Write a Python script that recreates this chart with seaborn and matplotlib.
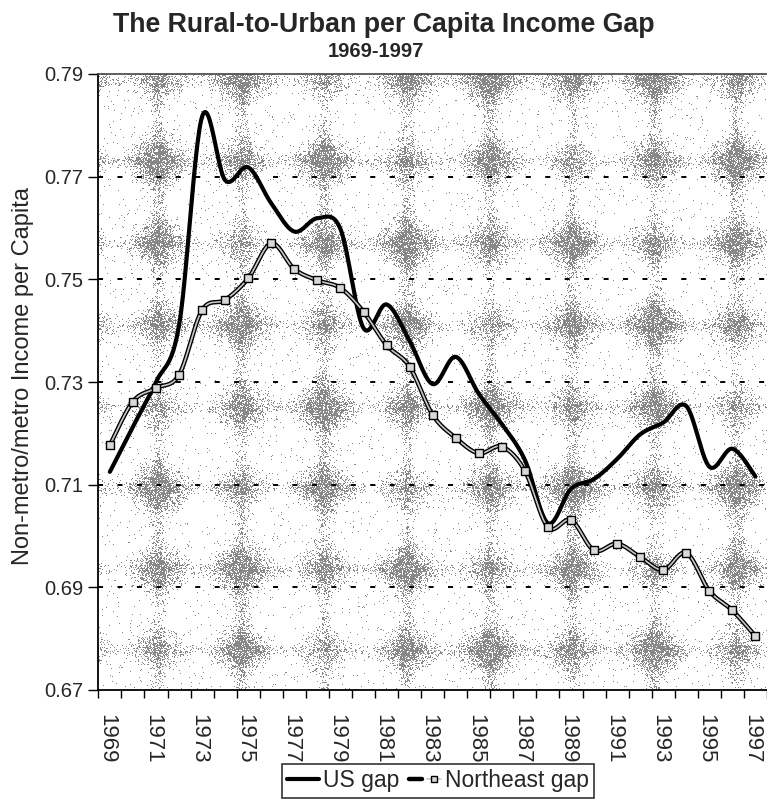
import numpy as np
import pandas as pd
import matplotlib
matplotlib.use("Agg")
import matplotlib.pyplot as plt
import matplotlib.transforms as mtransforms
import seaborn as sns
from matplotlib.lines import Line2D
from matplotlib.legend_handler import HandlerTuple
from matplotlib.ticker import FormatStrFormatter

# ---------------- data ----------------
years = list(range(1969, 1998))
us_gap = [0.7125, 0.7213, 0.7300, 0.7410, 0.7817, 0.7693, 0.7718, 0.7648,
          0.7593, 0.7619, 0.7598, 0.7405, 0.7451, 0.7380, 0.7296, 0.7349,
          0.7277, 0.7218, 0.7148, 0.7025, 0.7092, 0.7111, 0.7150, 0.7198,
          0.7221, 0.7253, 0.7135, 0.7170, 0.7116]
ne_gap = [0.7177, 0.7262, 0.7288, 0.7314, 0.7440, 0.7460, 0.7502, 0.7570,
          0.7520, 0.7498, 0.7483, 0.7437, 0.7372, 0.7330, 0.7236, 0.7191,
          0.7161, 0.7174, 0.7127, 0.7017, 0.7031, 0.6972, 0.6985, 0.6959,
          0.6934, 0.6967, 0.6893, 0.6855, 0.6805]
tick_years = years[::2]
y_ticks = [0.67, 0.69, 0.71, 0.73, 0.75, 0.77, 0.79]
grid_levels = [0.69, 0.71, 0.73, 0.75, 0.77]
series_labels = ["US gap", "Northeast gap"]
title = "The Rural-to-Urban per Capita Income Gap"
subtitle = "1969-1997"
ylabel = "Non-metro/metro Income per Capita"

# ---------------- helpers ----------------
def smooth_curve(xs, ys, n=24):
    """Excel-like smoothed line (Catmull-Rom Bezier) through the data points."""
    P = np.column_stack([xs, ys]).astype(float)
    ext = np.vstack([P[0], P, P[-1]])
    out = []
    t = np.linspace(0, 1, n, endpoint=False)[:, None]
    for i in range(len(P) - 1):
        p0, p1, p2, p3 = ext[i], ext[i + 1], ext[i + 2], ext[i + 3]
        c1 = p1 + (p2 - p0) / 6.0
        c2 = p2 - (p3 - p1) / 6.0
        B = ((1 - t) ** 3) * p1 + 3 * ((1 - t) ** 2) * t * c1 + 3 * (1 - t) * t ** 2 * c2 + t ** 3 * p2
        out.append(B)
    out.append(P[-1][None, :])
    S = np.vstack(out)
    return S[:, 0], S[:, 1]

# ---------------- figure ----------------
sns.set_style("white")
plt.rcParams["font.family"] = ["Liberation Sans", "DejaVu Sans"]

W_PX, H_PX = 767, 800
fig = plt.figure(figsize=(W_PX / 100, H_PX / 100), dpi=100)
ax_left, ax_top, ax_bottom = 98, 74, 690
ax = fig.add_axes([ax_left / W_PX, 1 - ax_bottom / H_PX,
                   (W_PX - ax_left) / W_PX, (ax_bottom - ax_top) / H_PX])

# textured background (decorative halftone blobs, deterministic hash dither)
H, W = ax_bottom - ax_top, W_PX - ax_left
yy, xx = np.mgrid[0:H, 0:W]
X = xx + ax_left
Y = yy + ax_top
cxs = [75, 158, 241, 324, 407, 490, 572, 654, 736, 818]
cys = [0, 80, 161, 243, 325, 407, 488, 569, 650, 731]
I = np.zeros((H, W))
for i, x0 in enumerate(cxs):
    for j, y0 in enumerate(cys):
        A = 0.45 + 0.55 * (((i * 3 + j * 5) % 7) / 6.0)
        dx = X - x0
        dy = Y - y0
        blob = (np.exp(-(dx ** 2 / (2 * 17 ** 2) + dy ** 2 / (2 * 14 ** 2)))
                + 0.5 * np.exp(-(dx ** 2 / (2 * 5 ** 2) + dy ** 2 / (2 * 30 ** 2)))
                + 0.35 * np.exp(-(dx ** 2 / (2 * 28 ** 2) + dy ** 2 / (2 * 4 ** 2))))
        I += A * blob
density = np.clip(0.85 * I - 0.08, 0, 0.75) + 0.015
hsh = np.sin(X * 12.9898 + Y * 78.233) * 43758.5453
thr = hsh - np.floor(hsh)
mask = density > thr
img = np.ones((H, W, 4))
img[..., :3] = 0.38
img[..., 3] = mask.astype(float) * 0.75
ax.imshow(img, extent=[0, 1, 0, 1], transform=ax.transAxes, aspect="auto",
          interpolation="nearest", zorder=0)

# dashed gridlines
for v in grid_levels:
    ax.axhline(v, color="black", lw=1.4, ls=(0, (2.6, 7.4)), zorder=1)

idx = np.arange(len(years))
sx_us, sy_us = smooth_curve(idx, us_gap)
sx_ne, sy_ne = smooth_curve(idx, ne_gap)

sns.lineplot(x=sx_us, y=sy_us, ax=ax, color="black", lw=3.0, sort=False,
             estimator=None, zorder=3)
sns.lineplot(x=sx_ne, y=sy_ne, ax=ax, color="black", lw=3.2, sort=False,
             estimator=None, zorder=4)
sns.lineplot(x=sx_ne, y=sy_ne, ax=ax, color="#c8c8c8", lw=1.2, sort=False,
             estimator=None, zorder=5)
sns.scatterplot(x=idx, y=ne_gap, ax=ax, marker="s", s=26, color="#d8d8d8",
                edgecolor="black", linewidth=1.0, zorder=6, legend=False)

# axes limits and ticks
ax.set_xlim(-0.515, 28.2)
ax.set_ylim(0.67, 0.79)
ax.set_xticks(list(range(0, len(years), 2)))
ax.set_xticklabels([str(y) for y in tick_years], rotation=-90, fontsize=16)
ax.set_xticks(np.arange(-0.5, len(years), 1.0), minor=True)
ax.tick_params(axis="x", which="major", length=0, pad=17)
ax.tick_params(axis="x", which="minor", length=6, width=1.0, color="black",
               direction="out", bottom=True)
shift = mtransforms.ScaledTranslation(-3.5 / 100, 0, fig.dpi_scale_trans)
for lbl in ax.get_xticklabels():
    lbl.set_transform(lbl.get_transform() + shift)
ax.set_yticks(y_ticks)
ax.yaxis.set_major_formatter(FormatStrFormatter("%.2f"))
ax.tick_params(axis="y", which="major", length=7, width=1.0, color="black",
               direction="out", left=True, labelsize=14.5, pad=3.5)
ax.set_xlabel("")
ax.set_ylabel(ylabel, fontsize=17)
ax.yaxis.set_label_coords(-0.096, 0.51)

for side in ["left", "bottom"]:
    ax.spines[side].set_color("black")
    ax.spines[side].set_linewidth(1.3)
ax.spines["top"].set_color("#444444")
ax.spines["top"].set_linewidth(1.2)
ax.spines["right"].set_visible(False)

# titles
fig.text(0.5, 1 - 32 / H_PX, title, ha="center", va="baseline",
         fontsize=19.3, fontweight="bold")
fig.text(376 / W_PX, 1 - 57 / H_PX, subtitle, ha="center", va="baseline",
         fontsize=14.5, fontweight="bold")

# legend
us_handle = Line2D([], [], color="black", lw=3.0)
ne_handle = (Line2D([], [], color="black", lw=3.2),
             Line2D([], [], color="#c8c8c8", lw=1.2, marker="s", ms=5,
                    mfc="#d8d8d8", mec="black", mew=1.0))
leg = fig.legend([us_handle, ne_handle], series_labels, ncol=2, loc="center",
                 bbox_to_anchor=(438 / W_PX, 1 - 781 / H_PX),
                 handler_map={tuple: HandlerTuple(ndivide=None)},
                 frameon=True, fancybox=False, edgecolor="black", fontsize=16.5,
                 handlelength=1.4, handletextpad=0.2, columnspacing=0.4,
                 borderpad=0.22, borderaxespad=0)
leg.get_frame().set_linewidth(1.2)

fig.savefig("out.png", dpi=100)
